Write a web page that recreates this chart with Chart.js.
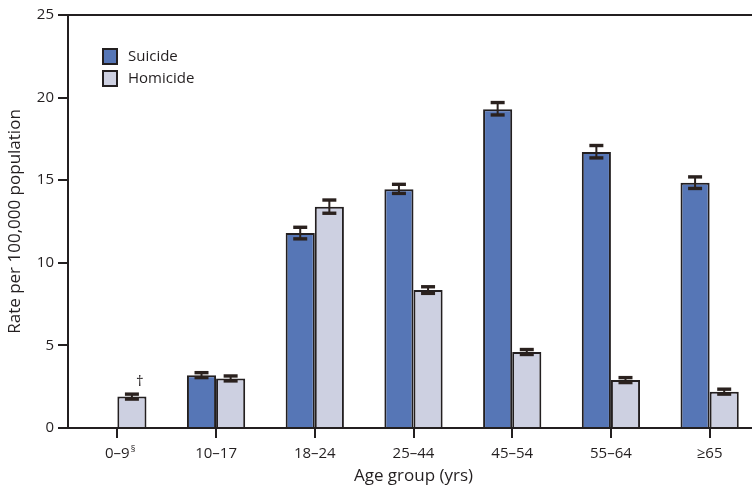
<!DOCTYPE html>
<html>
<head>
<meta charset="utf-8">
<script src="https://cdn.jsdelivr.net/npm/chart.js@4.4.1/dist/chart.umd.min.js"></script>
<style>
  html, body { margin: 0; padding: 0; background: #fff; overflow: hidden; }
  #wrap { width: 762px; height: 489px; }
</style>
</head>
<body>
<div id="wrap"><canvas id="c" width="762" height="489"></canvas></div>
<script>
// Age groups and rates per 100,000 population
const ageGroups = ["0–9", "10–17", "18–24", "25–44", "45–54", "55–64", "≥65"];
const suicideRate = [null, 3.2, 11.8, 14.45, 19.3, 16.7, 14.85];
const suicideLow  = [null, 3.05, 11.45, 14.2, 18.95, 16.35, 14.5];
const suicideHigh = [null, 3.35, 12.15, 14.75, 19.7, 17.1, 15.2];
const homicideRate = [1.9, 3.0, 13.4, 8.35, 4.6, 2.9, 2.2];
const homicideLow  = [1.75, 2.85, 13.0, 8.15, 4.45, 2.75, 2.05];
const homicideHigh = [2.05, 3.15, 13.8, 8.55, 4.75, 3.05, 2.35];
const yTicks = [0, 5, 10, 15, 20, 25];

const INK = "#231f20";
const FONT = "'Open Sans', 'Liberation Sans', sans-serif";

// Confidence-interval whiskers drawn on top of each bar
const errorBars = {
  id: "errorBars",
  afterDatasetsDraw(chart) {
    const ctx = chart.ctx;
    const y = chart.scales.y;
    const ranges = [[suicideLow, suicideHigh], [homicideLow, homicideHigh]];
    ctx.save();
    ctx.strokeStyle = "#2a211e";
    chart.data.datasets.forEach((ds, di) => {
      const meta = chart.getDatasetMeta(di);
      meta.data.forEach((bar, i) => {
        const lo = ranges[di][0][i], hi = ranges[di][1][i];
        if (lo == null || hi == null) return;
        const x = bar.x;
        const yl = y.getPixelForValue(lo), yh = y.getPixelForValue(hi);
        ctx.lineWidth = 2;
        ctx.beginPath();
        ctx.moveTo(x, yl); ctx.lineTo(x, yh);
        ctx.stroke();
        ctx.lineWidth = 3.4;
        [yl, yh].forEach(py => {
          ctx.beginPath();
          ctx.moveTo(x - 7, py); ctx.lineTo(x + 7, py);
          ctx.stroke();
        });
      });
    });
    ctx.restore();
  }
};

// Frame top line, in-plot legend and footnote marks
const decorations = {
  id: "decorations",
  afterDraw(chart) {
    const ctx = chart.ctx;
    const area = chart.chartArea;
    const y = chart.scales.y, x = chart.scales.x;
    ctx.save();
    // top frame line at the axis maximum
    ctx.strokeStyle = INK;
    ctx.lineWidth = 2;
    const top = y.getPixelForValue(25);
    ctx.beginPath();
    ctx.moveTo(area.left, top); ctx.lineTo(chart.width, top);
    ctx.stroke();

    // legend
    ctx.font = "15px " + FONT;
    ctx.textBaseline = "middle";
    chart.data.datasets.forEach((ds, i) => {
      const lx = 103, ly = 49 + i * 22;
      ctx.fillStyle = ds.backgroundColor;
      ctx.fillRect(lx, ly, 14, 15);
      ctx.lineWidth = 2;
      ctx.strokeStyle = INK;
      ctx.strokeRect(lx, ly, 14, 15);
      ctx.fillStyle = INK;
      ctx.fillText(ds.label, lx + 25, ly + 8);
    });

    // dagger above the 0–9 homicide bar (no suicide rate shown)
    const hBar = chart.getDatasetMeta(1).data[0];
    ctx.font = "15px " + FONT;
    ctx.textAlign = "center";
    ctx.fillStyle = INK;
    ctx.fillText("†", hBar.x + 8, y.getPixelForValue(homicideHigh[0]) - 12);

    // section-sign footnote on the first category label
    ctx.font = "15px " + FONT;
    const w = ctx.measureText(ageGroups[0]).width;
    const cx = x.getPixelForValue(0);
    ctx.font = "9px " + FONT;
    ctx.textAlign = "left";
    ctx.fillText("§", cx + w / 2 + 1, area.bottom + 21);
    ctx.restore();
  }
};

new Chart(document.getElementById("c"), {
  type: "bar",
  data: {
    labels: ageGroups,
    datasets: [
      { label: "Suicide", data: suicideRate, backgroundColor: "#5676b6",
        borderColor: INK, borderWidth: 2, borderSkipped: "bottom" },
      { label: "Homicide", data: homicideRate, backgroundColor: "#cdd0e1",
        borderColor: INK, borderWidth: 2, borderSkipped: "bottom" }
    ]
  },
  options: {
    responsive: false,
    animation: false,
    events: [],
    layout: { padding: { top: 15, right: 3, left: 0, bottom: 0 } },
    datasets: { bar: { barPercentage: 1, categoryPercentage: 0.59 } },
    plugins: { legend: { display: false }, tooltip: { enabled: false } },
    scales: {
      x: {
        offset: true,
        grid: { display: true, offset: false, drawOnChartArea: false, tickLength: 10,
                color: INK, lineWidth: 2 },
        border: { display: true, color: INK, width: 2 },
        ticks: { color: INK, font: { family: FONT, size: 15 }, padding: 7, maxRotation: 0 },
        title: { display: true, text: "Age group (yrs)", color: INK,
                 font: { family: FONT, size: 17 }, padding: { top: 0, bottom: 3 } },
        afterFit(s) { s.height = 61; }
      },
      y: {
        min: 0, max: 25,
        afterBuildTicks(s) { s.ticks = yTicks.map(v => ({ value: v })); },
        grid: { display: true, drawOnChartArea: false, tickLength: 10, color: INK, lineWidth: 2 },
        border: { display: true, color: INK, width: 2 },
        ticks: { color: INK, font: { family: FONT, size: 15 }, padding: 4 },
        title: { display: true, text: "Rate per 100,000 population", color: INK,
                 font: { family: FONT, size: 17 }, padding: { top: 5, bottom: 4 } },
        afterFit(s) { s.width = 68; }
      }
    }
  },
  plugins: [errorBars, decorations]
});
</script>
</body>
</html>
